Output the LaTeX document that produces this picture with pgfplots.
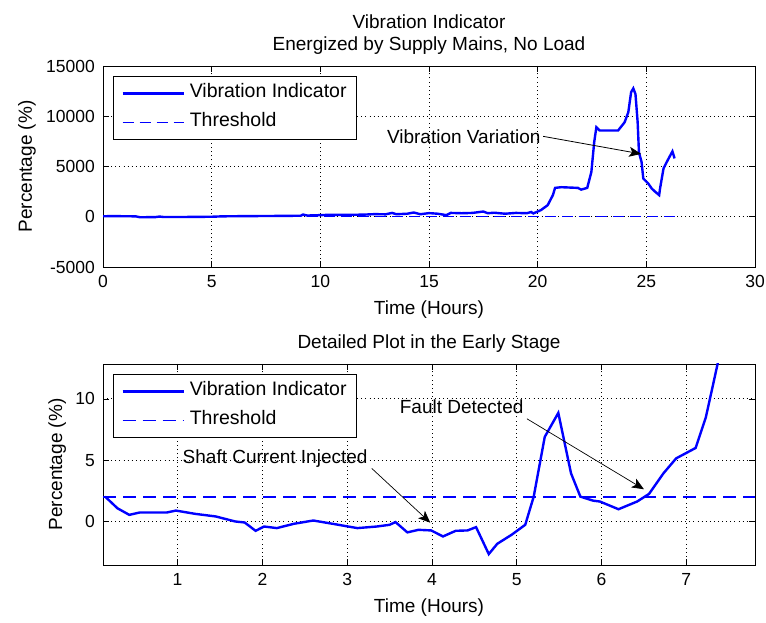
\documentclass[border=0pt]{standalone}
\usepackage{fontspec}
\setmainfont{Liberation Sans}
\usepackage{pgfplots}
\pgfplotsset{compat=1.18}
\usetikzlibrary{arrows.meta}
\definecolor{mblue}{RGB}{0,0,255}

\pgfplotstableread{
x y
0 50
0.5 60
1.0 50
1.5 40
1.7 -50
2.4 -40
2.6 20
2.8 -30
4.0 -20
5.0 0
5.5 40
6.5 60
8.0 80
9.1 100
9.2 220
9.4 120
10.0 160
10.5 200
11.0 180
12.0 210
12.5 260
13.0 240
13.3 380
13.5 250
14.0 300
14.3 420
14.6 250
15.0 360
15.4 300
15.8 160
16.0 380
16.5 350
17.0 380
17.5 520
17.7 350
18.0 400
18.5 300
19.0 380
19.5 350
19.7 470
19.8 330
20.15 660
20.46 1150
20.7 2150
20.8 2870
21.08 2940
21.85 2870
22.0 2700
22.28 2870
22.47 4450
22.6 7400
22.7 8900
22.85 8580
23.7 8580
24.0 9400
24.17 10400
24.3 12400
24.4 12770
24.5 12200
24.6 9400
24.66 6400
24.78 5450
24.86 3800
25.09 3300
25.25 2800
25.4 2500
25.59 2150
25.63 2800
25.79 4800
25.94 5450
26.1 6100
26.2 6500
26.3 5800
}\toptable

\pgfplotstableread{
x y
0.145 2.03
0.29 1.08
0.43 0.54
0.55 0.73
0.87 0.73
0.98 0.89
1.21 0.62
1.45 0.41
1.68 0.00
1.79 -0.08
1.92 -0.76
2.02 -0.41
2.17 -0.54
2.37 -0.19
2.60 0.08
2.83 -0.19
3.12 -0.54
3.35 -0.41
3.50 -0.27
3.57 -0.05
3.71 -0.89
3.84 -0.68
3.99 -0.73
4.13 -1.22
4.28 -0.76
4.42 -0.73
4.52 -0.46
4.67 -2.66
4.77 -1.82
4.94 -1.08
5.10 -0.27
5.20 2.03
5.33 6.90
5.49 8.86
5.64 3.93
5.75 2.03
5.90 1.70
5.98 1.63
6.20 1.00
6.42 1.63
6.56 2.25
6.73 3.93
6.88 5.15
7.11 6.00
7.23 8.50
7.31 11.00
7.37 12.90
7.45 15.50
}\bottable

\begin{document}
\begin{tikzpicture}[x=1bp,y=1bp]
\useasboundingbox (0,0) rectangle (766,623);
\pgfplotsset{
  mystyle/.style={
    width=652bp, height=201bp, scale only axis,
    axis line style={black, line width=0.8bp},
    grid=major,
    grid style={black, line width=0.9bp, dash pattern=on 0.9bp off 3.2bp},
    tick align=inside, xtick pos=both, ytick pos=both,
    xticklabel pos=lower, yticklabel pos=left,
    major tick length=6bp,
    tick style={black, line width=0.8bp},
    tick label style={font=\fontsize{17.5bp}{20bp}\selectfont},
    xticklabel style={anchor=base, yshift=-21bp},
    yticklabel style={anchor=east, inner sep=0pt, xshift=-8bp},
    scaled y ticks=false, scaled x ticks=false,
    label style={font=\fontsize{19bp}{21bp}\selectfont},
    xlabel style={at={(0.5,0)}, anchor=base, yshift=-48bp, inner sep=0pt},
    every axis title shift/.style={},
    title style={font=\fontsize{19bp}{22bp}\selectfont, align=center, at={(0.5,1)}, anchor=south, inner sep=0pt, yshift=5bp},
    /pgf/number format/assume math mode=true,
    /pgf/number format/set thousands separator={},
    legend style={at={(0,1)}, anchor=north west, xshift=10bp, yshift=-10bp,
      draw=black, line width=0.8bp, fill=white,
      font=\fontsize{19.5bp}{21bp}\selectfont,
      inner xsep=8bp, inner ysep=6.5bp, row sep=8bp,
      nodes={inner sep=2bp, text height=13bp, text depth=4bp},
      /tikz/every odd column/.append style={column sep=3bp}},
    legend cell align=left,
    legend image code/.code={\draw[##1] (0bp,0bp) -- (61bp,0bp);},
  }
}
\begin{axis}[mystyle, at={(103bp,356bp)}, anchor=south west,
  xmin=0, xmax=30, ymin=-5000, ymax=15000,
  xtick={0,5,...,30}, ytick={-5000,0,5000,10000,15000},
  title={Vibration Indicator\\Energized by Supply Mains, No Load},
  xlabel={Time (Hours)}, ylabel={Percentage (\%)},
  ylabel style={at={(0,0.5)}, anchor=base, yshift=71bp, inner sep=0pt},
]
\addplot[mblue, line width=2.4bp] table[x=x,y=y] {\toptable};
\addlegendentry{Vibration Indicator}
\addplot[mblue, line width=1bp, dash pattern=on 11bp off 6bp] coordinates {(0,2) (26.3,2)};
\addlegendentry{Threshold}
\node[font=\fontsize{19bp}{21bp}\selectfont, inner sep=1bp] at (axis cs:16.6,8000) {Vibration Variation};
\draw[black, line width=0.8bp, -{Stealth[length=12bp, width=10bp, inset=3bp]}] (axis cs:20.25,8000) -- (axis cs:24.76,6250);
\end{axis}

\begin{axis}[mystyle, at={(103bp,58bp)}, anchor=south west,
  xmin=0.12, xmax=7.81, ymin=-3.55, ymax=12.85,
  xtick={1,2,...,7}, ytick={0,5,10},
  title={Detailed Plot in the Early Stage},
  xlabel={Time (Hours)}, ylabel={Percentage (\%)},
  ylabel style={at={(0,0.5)}, anchor=base, yshift=41bp, inner sep=0pt},
]
\addplot[mblue, line width=2.4bp] table[x=x,y=y] {\bottable};
\addlegendentry{Vibration Indicator}
\addplot[mblue, line width=1.2bp, dash pattern=on 13bp off 7bp] coordinates {(0.12,2) (7.81,2)};
\addlegendentry{Threshold}
\node[font=\fontsize{19bp}{21bp}\selectfont, inner sep=1bp] at (axis cs:2.15,5.14) {Shaft Current Injected};
\draw[black, line width=0.7bp, -{Stealth[length=12bp, width=10bp, inset=3bp]}] (axis cs:3.29,4.33) -- (axis cs:3.98,-0.1);
\node[font=\fontsize{19bp}{21bp}\selectfont, inner sep=1bp] at (axis cs:4.35,9.35) {Fault Detected};
\draw[black, line width=0.7bp, -{Stealth[length=12bp, width=10bp, inset=3bp]}] (axis cs:5.12,8.38) -- (axis cs:6.5,2.63);
\end{axis}
\end{tikzpicture}
\end{document}
